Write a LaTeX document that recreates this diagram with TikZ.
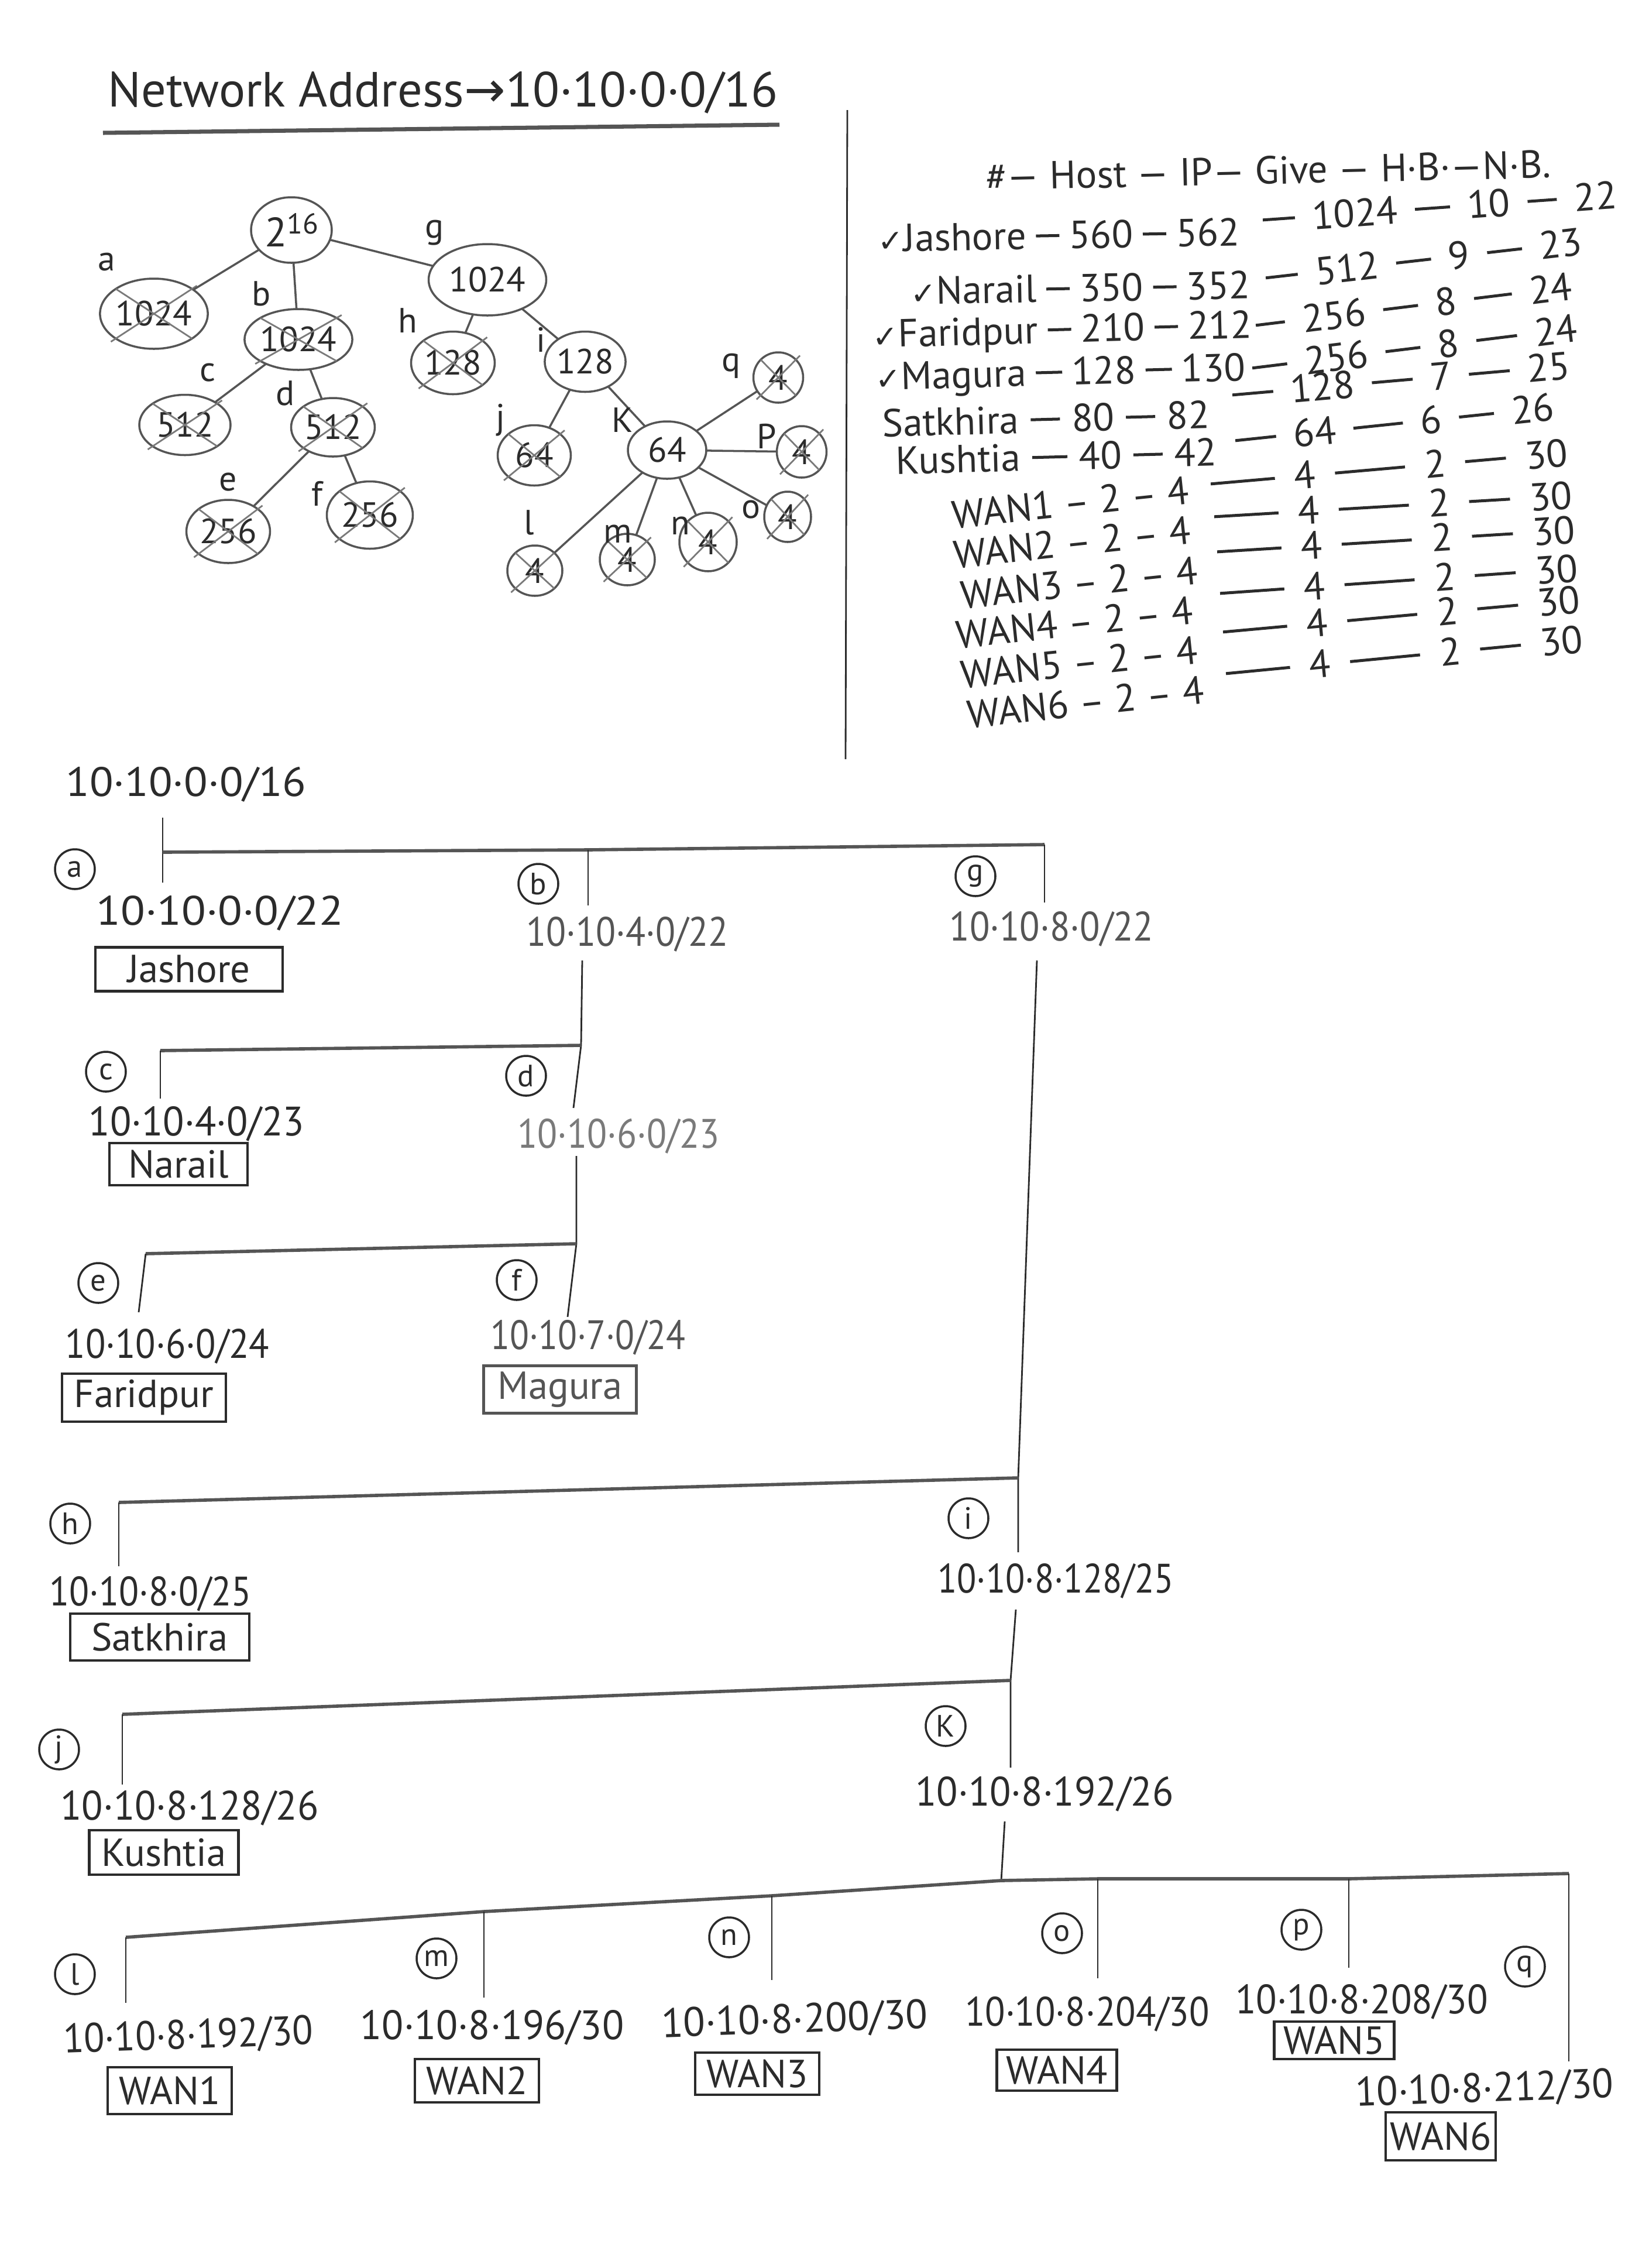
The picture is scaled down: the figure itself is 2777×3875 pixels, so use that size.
\documentclass[tikz,border=0pt]{standalone}
\usepackage{graphicx}
\usepackage{fontspec}
\setmainfont{PT Sans}
\newfontfamily\symf{DejaVu Sans}
\usetikzlibrary{shapes.geometric}
\definecolor{ink}{HTML}{2B2B2B}
\definecolor{pencil}{HTML}{555555}
\definecolor{faint}{HTML}{7A7A7A}
\newcommand\ck{{\symf\fontsize{15}{15}\selectfont ✓}}
\newcommand\hd[2][0.45em]{\hspace{#1}\rule[0.3em]{#2}{0.075em}\hspace{#1}}
\newcommand\crossnode[1]{\draw[xmark] (#1.north west) -- (#1.south east) (#1.north east) -- (#1.south west);}
\begin{document}
\begin{tikzpicture}[x=0.1mm,y=-0.1mm,
  every node/.style={inner sep=0pt, outer sep=0pt, text=ink},
  titletext/.style={font=\fontsize{24}{28}\selectfont},
  tab/.style={font=\fontsize{19}{22}\selectfont, anchor=west},
  tnode/.style={ellipse, draw=pencil, line width=1pt, font=\fontsize{17}{20}\selectfont},
  elab/.style={font=\fontsize{17}{20}\selectfont},
  tedge/.style={draw=pencil, line width=1pt},
  xmark/.style={draw=faint, line width=0.8pt, shorten <=-1mm, shorten >=-1mm},
  addr/.style={font=\fontsize{20}{24}\selectfont},
  circl/.style={circle, draw=ink, line width=1pt, minimum size=6.8mm, font=\fontsize{15}{17}\selectfont},
  namebox/.style={rectangle, draw=ink, line width=1.2pt, font=\fontsize{19}{22}\selectfont},
  wire/.style={draw=ink, line width=0.8pt},
  bus/.style={draw=pencil, line width=1.6pt},
]
\useasboundingbox[fill=white] (0,0) rectangle (2777,3875);

% ---------------- title ----------------
\node[titletext] (title) at (757,158) {Network Address{\symf →}10·10·0·0/16};
\draw[pencil, line width=2pt] (176,227) -- (1332,213);
\draw[ink, line width=0.8pt] (1448,188) -- (1445,1297);

% ---------------- tree ----------------
\node[tnode, minimum width=13.8mm, minimum height=11.2mm] (root) at (498,393)
  {{\fontsize{20}{24}\selectfont 2}\raisebox{2.2mm}{\fontsize{14}{16}\selectfont 16}};
\node[tnode, minimum width=18.3mm, minimum height=12mm] (aN) at (263,536) {1024};
\node[tnode, minimum width=20.1mm, minimum height=12.2mm] (gN) at (833,478) {1024};
\node[tnode, minimum width=16mm, minimum height=10.4mm] (bN) at (510,580) {1024};
\node[tnode, minimum width=14.3mm, minimum height=10.7mm] (hN) at (774,620) {128};
\node[tnode, minimum width=12.5mm, minimum height=10.3mm] (iN) at (1000,618) {128};
\node[tnode, minimum width=15.6mm, minimum height=10.3mm] (cN) at (316,726) {512};
\node[tnode, minimum width=14.3mm, minimum height=10mm] (dN) at (569,730) {512};
\node[tnode, minimum width=12.5mm, minimum height=10.3mm] (jN) at (913,778) {64};
\node[tnode, minimum width=13.4mm, minimum height=9.8mm] (kN) at (1140,769) {64};
\node[tnode, minimum width=8.5mm, minimum height=8.6mm] (qN) at (1330,645) {4};
\node[tnode, minimum width=8.5mm, minimum height=8.8mm] (pN) at (1370,772) {4};
\node[tnode, minimum width=8mm, minimum height=8.6mm] (oN) at (1346,883) {4};
\node[tnode, minimum width=14.3mm, minimum height=10.8mm] (eN) at (390,908) {256};
\node[tnode, minimum width=14.7mm, minimum height=11.5mm] (fN) at (632,880) {256};
\node[tnode, minimum width=9.4mm, minimum height=8.6mm] (lN) at (914,975) {4};
\node[tnode, minimum width=9.4mm, minimum height=8.8mm] (mN) at (1072,956) {4};
\node[tnode, minimum width=9.8mm, minimum height=10mm] (nN) at (1210,926) {4};

\foreach \n in {aN,bN,hN,cN,dN,jN,qN,pN,oN,eN,fN,lN,mN,nN} {\crossnode{\n}}

\draw[tedge] (root) -- (aN);
\draw[tedge] (root) -- (bN);
\draw[tedge] (root) -- (gN);
\draw[tedge] (bN) -- (cN);
\draw[tedge] (bN) -- (dN);
\draw[tedge] (dN) -- (eN);
\draw[tedge] (dN) -- (fN);
\draw[tedge] (gN) -- (hN);
\draw[tedge] (gN) -- (iN);
\draw[tedge] (iN) -- (jN);
\draw[tedge] (iN) -- (kN);
\draw[tedge] (kN) -- (lN);
\draw[tedge] (kN) -- (mN);
\draw[tedge] (kN) -- (nN);
\draw[tedge] (kN) -- (oN);
\draw[tedge] (kN) -- (pN);
\draw[tedge] (kN) -- (qN);

\node[elab] (la) at (182,448) {a};
\node[elab] (lg) at (743,398) {g};
\node[elab] (lb) at (447,502) {b};
\node[elab] (lh) at (697,548) {h};
\node[elab] (lc) at (355,637) {c};
\node[elab] (ld) at (488,672) {d};
\node[elab] (li) at (924,580) {i};
\node[elab] (lj) at (855,718) {j};
\node[elab] (lk) at (1064,718) {K};
\node[elab] (lq) at (1250,625) {q};
\node[elab] (lp) at (1310,745) {P};
\node[elab] (le) at (390,824) {e};
\node[elab] (lf) at (542,843) {f};
\node[elab] (ll) at (904,893) {l};
\node[elab] (lm) at (1056,912) {m};
\node[elab] (ln) at (1163,898) {n};
\node[elab] (lo) at (1283,871) {o};

% ---------------- table ----------------
\node[tab, rotate=1.3] (hdr) at (1685,302) {\#— Host — IP— Give — H·B·—N·B.};
\node[tab, rotate=1] (t1l) at (1500,407) {\ck Jashore\hd[0.25em]{4mm}560\hd[0.25em]{4mm}562};
\node[tab, rotate=4] (t1r) at (2158,375) {\rule[0.3em]{5.5mm}{0.075em}\hspace{0.45em}1024\hd{6mm}10\hd{5mm}22};
\node[tab, rotate=1] (t2l) at (1556,497) {\ck Narail\hd[0.25em]{4mm}350\hd[0.25em]{4mm}352};
\node[tab, rotate=6.5] (t2r) at (2163,474) {\rule[0.3em]{5.5mm}{0.075em}\hspace{0.45em}512\hd{6mm}9\hd{6mm}23};
\node[tab, rotate=1.5] (t3l) at (1491,577) {\ck Faridpur\hd[0.25em]{4mm}210\hd[0.25em]{4mm}212};
\node[tab, rotate=7] (t3r) at (2146,555) {\rule[0.3em]{5mm}{0.075em}\hspace{0.45em}256\hd{6mm}8\hd{6.5mm}24};
\node[tab, rotate=1.5] (t4l) at (1496,650) {\ck Magura\hd[0.25em]{4.5mm}128\hd[0.25em]{4.5mm}130};
\node[tab, rotate=7] (t4r) at (2140,628) {\rule[0.3em]{6mm}{0.075em}\hspace{0.45em}256\hd{6mm}8\hd{7mm}24};
\node[tab, rotate=1.5] (t5l) at (1508,723) {Satkhira\hd[0.3em]{5mm}80\hd[0.3em]{5mm}82};
\node[tab, rotate=5] (t5r) at (2106,674) {\rule[0.3em]{7mm}{0.075em}\hspace{0.45em}128\hd{7mm}7\hd{7mm}25};
\node[tab, rotate=1.5] (t6l) at (1531,787) {Kushtia\hd[0.3em]{6mm}40\hd[0.3em]{5mm}42};
\node[tab, rotate=6] (t6r) at (2111,752) {\rule[0.3em]{7mm}{0.075em}\hspace{0.45em}64\hd{8.5mm}6\hd{6mm}26};
\node[tab, rotate=5] (r1) at (2069,826) {\rule[0.3em]{11mm}{0.075em}\hspace{0.5em}4\hd[0.5em]{12mm}2\hd[0.5em]{7mm}30};
\node[tab, rotate=6] (w1) at (1627,880) {WAN1 – 2 – 4};
\node[tab, rotate=3.4] (r2) at (2075,882) {\rule[0.3em]{11mm}{0.075em}\hspace{0.5em}4\hd[0.5em]{12mm}2\hd[0.5em]{7mm}30};
\node[tab, rotate=6] (w2) at (1630,948) {WAN2 – 2 – 4};
\node[tab, rotate=3.5] (r3) at (2080,942) {\rule[0.3em]{11mm}{0.075em}\hspace{0.5em}4\hd[0.5em]{12mm}2\hd[0.5em]{7mm}30};
\node[tab, rotate=6] (w3) at (1642,1017) {WAN3 – 2 – 4};
\node[tab, rotate=4] (r4) at (2085,1013) {\rule[0.3em]{11mm}{0.075em}\hspace{0.5em}4\hd[0.5em]{12mm}2\hd[0.5em]{7mm}30};
\node[tab, rotate=6] (w4) at (1634,1085) {WAN4 – 2 – 4};
\node[tab, rotate=5.2] (r5) at (2090,1079) {\rule[0.3em]{11mm}{0.075em}\hspace{0.5em}4\hd[0.5em]{12mm}2\hd[0.5em]{7mm}30};
\node[tab, rotate=6] (w5) at (1642,1153) {WAN5 – 2 – 4};
\node[tab, rotate=5.5] (r6) at (2095,1150) {\rule[0.3em]{11mm}{0.075em}\hspace{0.5em}4\hd[0.5em]{12mm}2\hd[0.5em]{7mm}30};
\node[tab, rotate=6] (w6) at (1653,1221) {WAN6 – 2 – 4};

% ---------------- subnet tree (bottom) ----------------
\node[addr] (net16) at (318,1340) {\scalebox{1.06}[1]{10·10·0·0/16}};

\coordinate (top16) at (278,1397);
\coordinate (jA) at (278,1456);
\coordinate (endA) at (278,1508);
\coordinate (jB) at (1005,1452);
\coordinate (endB1) at (1005,1547);
\coordinate (jG) at (1785,1443);
\coordinate (endG1) at (1785,1542);
\coordinate (startB2) at (995,1641);
\coordinate (jC) at (993,1786);
\coordinate (cTop) at (274,1795);
\coordinate (endC) at (274,1877);
\coordinate (endD1) at (980,1893);
\coordinate (startD2) at (985,1975);
\coordinate (jE) at (985,2125);
\coordinate (eTop) at (249,2142);
\coordinate (endE) at (237,2242);
\coordinate (endF) at (970,2250);
\coordinate (startG2) at (1772,1641);
\coordinate (jH) at (1740,2525);
\coordinate (hTop) at (203,2567);
\coordinate (endH) at (203,2676);
\coordinate (endI1) at (1740,2652);
\coordinate (startI2) at (1736,2750);
\coordinate (jJ) at (1727,2871);
\coordinate (jTop) at (209,2929);
\coordinate (endJ) at (209,3049);
\coordinate (endK1) at (1727,3020);
\coordinate (startK2) at (1717,3112);
\coordinate (jK) at (1711,3213);
\coordinate (lTop) at (215,3310);  \coordinate (endL) at (215,3422);
\coordinate (mTop) at (827,3266);  \coordinate (endM) at (827,3413);
\coordinate (nTop) at (1319,3239); \coordinate (endN) at (1319,3383);
\coordinate (oTop) at (1876,3210); \coordinate (endO) at (1876,3380);
\coordinate (pTop) at (2305,3210); \coordinate (endP) at (2305,3362);
\coordinate (qTop) at (2681,3201); \coordinate (endQ) at (2681,3522);

\draw[wire] (top16) -- (endA);
\draw[bus] (jA) -- (jB) -- (jG);
\draw[wire] (jB) -- (endB1);
\draw[wire] (jG) -- (endG1);
\draw[wire] (startB2) -- (jC) -- (endD1);
\draw[bus] (jC) -- (cTop);
\draw[wire] (cTop) -- (endC);
\draw[wire] (startD2) -- (jE) -- (endF);
\draw[bus] (jE) -- (eTop);
\draw[wire] (eTop) -- (endE);
\draw[wire] (startG2) -- (jH) -- (endI1);
\draw[bus] (jH) -- (hTop);
\draw[wire] (hTop) -- (endH);
\draw[wire] (startI2) -- (jJ) -- (endK1);
\draw[bus] (jJ) -- (jTop);
\draw[wire] (jTop) -- (endJ);
\draw[wire] (startK2) -- (jK);
\draw[bus] (lTop) -- (mTop) -- (nTop) -- (jK) -- (oTop) -- (pTop) -- (qTop);
\draw[wire] (lTop) -- (endL);
\draw[wire] (mTop) -- (endM);
\draw[wire] (nTop) -- (endN);
\draw[wire] (oTop) -- (endO);
\draw[wire] (pTop) -- (endP);
\draw[wire] (qTop) -- (endQ);

% circled letters
\node[circl] (ca) at (128,1485) {a};
\node[circl] (cb) at (920,1510) {b};
\node[circl] (cg) at (1667,1497) {g};
\node[circl] (cc) at (181,1831) {c};
\node[circl] (cd) at (899,1838) {d};
\node[circl] (ce) at (168,2192) {e};
\node[circl] (cf) at (883,2187) {f};
\node[circl] (ch) at (120,2603) {h};
\node[circl] (ci) at (1655,2594) {i};
\node[circl] (cj) at (101,2989) {j};
\node[circl] (ck) at (1616,2949) {K};
\node[circl] (cl) at (128,3373) {l};
\node[circl] (cm) at (746,3346) {m};
\node[circl] (cn) at (1246,3310) {n};
\node[circl] (co) at (1815,3303) {o};
\node[circl] (cp) at (2224,3297) {p};
\node[circl] (cq) at (2606,3360) {q};

% addresses
\node[addr] (adA) at (376,1560) {\scalebox{1.09}[1]{10·10·0·0/22}};
\node[addr, text=pencil] (adB) at (1072,1596) {\scalebox{0.89}[1]{10·10·4·0/22}};
\node[addr, text=pencil] (adG) at (1797,1587) {\scalebox{0.9}[1]{10·10·8·0/22}};
\node[addr] (adC) at (336,1920) {\scalebox{0.95}[1]{10·10·4·0/23}};
\node[addr, text=faint] (adD) at (1057,1941) {\scalebox{0.89}[1]{10·10·6·0/23}};
\node[addr] (adE) at (286,2300) {\scalebox{0.9}[1]{10·10·6·0/24}};
\node[addr, text=pencil] (adF) at (1005,2285) {\scalebox{0.86}[1]{10·10·7·0/24}};
\node[addr] (adH) at (257,2723) {\scalebox{0.89}[1]{10·10·8·0/25}};
\node[addr] (adI) at (1804,2701) {\scalebox{0.87}[1]{10·10·8·128/25}};
\node[addr] (adJ) at (324,3089) {\scalebox{0.95}[1]{10·10·8·128/26}};
\node[addr] (adK) at (1785,3065) {\scalebox{0.95}[1]{10·10·8·192/26}};
\node[addr, rotate=2] (adL) at (322,3480) {\scalebox{0.92}[1]{10·10·8·192/30}};
\node[addr] (adM) at (841,3464) {\scalebox{0.97}[1]{10·10·8·196/30}};
\node[addr, rotate=2] (adN) at (1358,3453) {\scalebox{0.98}[1]{10·10·8·200/30}};
\node[addr] (adO) at (1858,3441) {\scalebox{0.9}[1]{10·10·8·204/30}};
\node[addr] (adP) at (2327,3420) {\scalebox{0.93}[1]{10·10·8·208/30}};
\node[addr, rotate=2] (adQ) at (2537,3571) {\scalebox{0.95}[1]{10·10·8·212/30}};

% name boxes
\node[namebox, minimum width=32mm, minimum height=7.5mm] (bxA) at (323,1656) {Jashore};
\node[namebox, minimum width=23.6mm, minimum height=7.2mm] (bxC) at (305,1989) {Narail};
\node[namebox, minimum width=28mm, minimum height=8.2mm] (bxE) at (246,2388) {Faridpur};
\node[namebox, minimum width=26.1mm, minimum height=8.1mm, draw=pencil, text=pencil] (bxF) at (957,2374) {Magura};
\node[namebox, minimum width=30.6mm, minimum height=8mm] (bxH) at (273,2797) {Satkhira};
\node[namebox, minimum width=25.5mm, minimum height=7.6mm] (bxJ) at (280,3165) {Kushtia};
\node[namebox, minimum width=21.2mm, minimum height=8mm] (bxL) at (290,3572) {WAN1};
\node[namebox, minimum width=21.2mm, minimum height=7.4mm] (bxM) at (815,3555) {WAN2};
\node[namebox, minimum width=21.2mm, minimum height=7.2mm] (bxN) at (1294,3543) {WAN3};
\node[namebox, minimum width=20.5mm, minimum height=7mm] (bxO) at (1806,3537) {WAN4};
\node[namebox, minimum width=20.5mm, minimum height=6.4mm] (bxP) at (2280,3486) {WAN5};
\node[namebox, minimum width=18.8mm, minimum height=8.2mm] (bxQ) at (2462,3650) {WAN6};
\end{tikzpicture}
\end{document}
